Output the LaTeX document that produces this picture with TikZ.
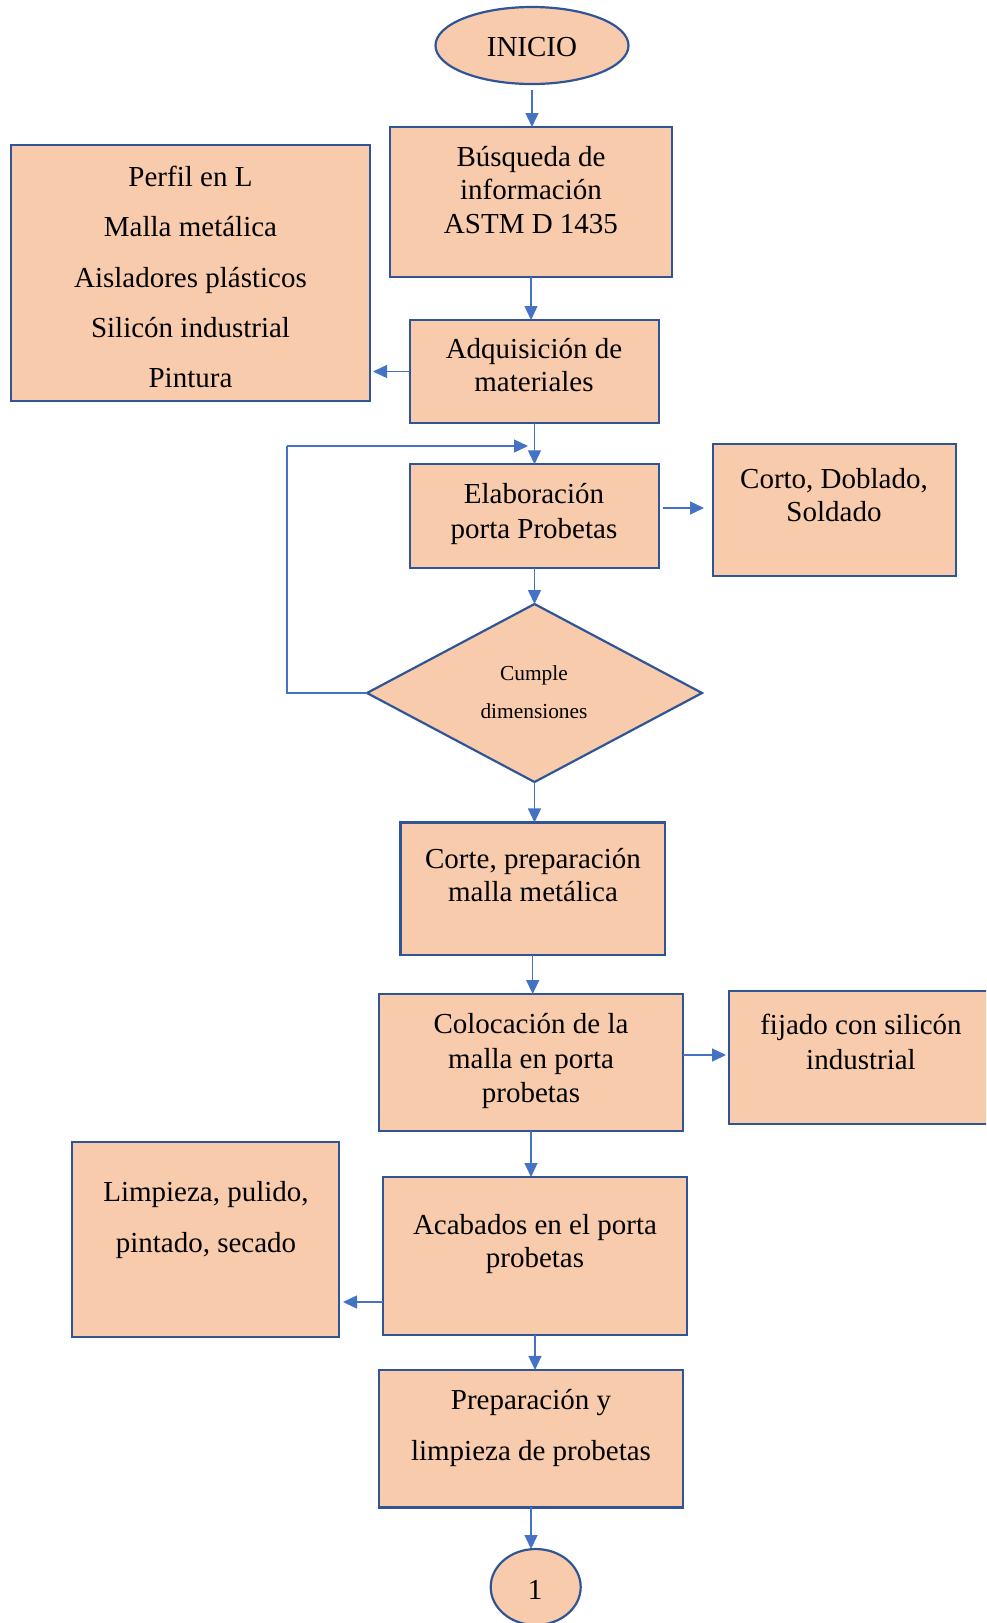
\documentclass[tikz,border=0pt]{standalone}
\usepackage{fontspec}
\setmainfont{Liberation Serif}
\usetikzlibrary{arrows.meta,shapes.geometric}
\definecolor{boxfill}{HTML}{F8CBAD}
\definecolor{boxline}{HTML}{2F5597}
\definecolor{arrowc}{HTML}{4472C4}
\begin{document}
\begin{tikzpicture}[x=1pt,y=-1pt,
  box/.style={draw=boxline,fill=boxfill,line width=2.2pt,rectangle,inner sep=0pt,outer sep=0pt},
  oval/.style={draw=boxline,fill=boxfill,line width=2.2pt,ellipse,inner sep=0pt,outer sep=0pt},
  txt/.style={align=center,font=\fontsize{29}{33.5}\selectfont,inner sep=0pt},
  wtxt/.style={align=center,font=\fontsize{29}{50.3}\selectfont,inner sep=0pt},
  arr/.style={draw=arrowc,line width=1.4pt,-{Triangle[length=14pt,width=13pt]}}]
\useasboundingbox (0,0) rectangle (986,1623);
\begin{scope}
\clip (0,0) rectangle (986,1623);
% shapes
\node[oval,minimum width=193pt,minimum height=77pt] (start) at (532,45.5) {};
\node[box,minimum width=282pt,minimum height=150pt] (b1) at (531,202) {};
\node[box,minimum width=359pt,minimum height=256pt] (mat) at (190.5,273) {};
\node[box,minimum width=249pt,minimum height=103pt] (b2) at (534.5,371.5) {};
\node[box,minimum width=249pt,minimum height=103.5pt] (b3) at (534.5,516) {};
\node[box,minimum width=243pt,minimum height=132pt] (corto) at (834.5,510) {};
\node[draw=boxline,fill=boxfill,line width=2.2pt,diamond,aspect=1.88,inner sep=0pt,outer sep=0pt,minimum width=335pt,minimum height=178pt] (d) at (534.5,693) {};
\node[box,minimum width=264.6pt,minimum height=132.5pt] (b4) at (532.7,888.7) {};
\node[box,minimum width=304pt,minimum height=137pt] (b5) at (531,1062.5) {};
\node[box,minimum width=264pt,minimum height=133pt] (fij) at (861,1057.5) {};
\node[box,minimum width=304pt,minimum height=158pt] (b6) at (535,1256) {};
\node[box,minimum width=267pt,minimum height=195pt] (limp) at (205.5,1239.5) {};
\node[box,minimum width=304pt,minimum height=137.5pt] (b7) at (531,1438.7) {};
\node[oval,minimum width=90pt,minimum height=76pt] (fin) at (535.7,1587) {};
% texts
\node[txt] (tstart) at (532,47.5) {INICIO};
\node[txt] (t1) at (531,190) {Búsqueda de\\información\\ASTM D 1435};
\node[wtxt] (tmat) at (190.5,277) {Perfil en L\\Malla metálica\\Aisladores plásticos\\Silicón industrial\\Pintura};
\node[txt] (t2) at (534,365) {Adquisición de\\materiales};
\node[txt,font=\fontsize{29}{35}\selectfont] (t3) at (534,514) {Elaboración\\porta Probetas};
\node[txt] (tcorto) at (834,495) {Corto, Doblado,\\Soldado};
\node[txt,font=\fontsize{21.4}{37.5}\selectfont] (td) at (534,692) {Cumple\\dimensiones};
\node[txt] (t4) at (533,875) {Corte, preparación\\malla metálica};
\node[txt,font=\fontsize{29}{34.2}\selectfont] (t5) at (531,1061) {Colocación de la\\malla en porta\\probetas};
\node[txt,font=\fontsize{29}{34.2}\selectfont] (tfij) at (861,1042) {fijado con silicón\\industrial};
\node[txt] (t6) at (535,1244) {Acabados en el porta\\probetas};
\node[wtxt,font=\fontsize{29}{50.5}\selectfont] (tlimp) at (206,1220) {Limpieza, pulido,\\pintado, secado};
\node[wtxt,font=\fontsize{29}{50.5}\selectfont] (t7) at (531,1428) {Preparación y\\limpieza de probetas};
\node[txt] (tfin) at (535,1590) {1};
% connectors
\coordinate (loopx) at (287,446);
\coordinate (loopend) at (528,446);
\draw[arr,shorten <=6pt] (start.south) -- (start.south |- b1.north);
\draw[arr] (b1.south) -- (b1.south |- b2.north);
\draw[arr,shorten >=3pt] (b2.west) -- (mat.east |- b2.west);
\draw[arr] (b2.south) -- (b2.south |- b3.north);
\draw[arr,shorten <=4pt,shorten >=9pt] ([yshift=8pt]b3.east) -- ([yshift=8pt]b3.east -| corto.west);
\draw[arr] (b3.south) -- (b3.south |- d.north);
\draw[draw=arrowc,line width=1.4pt] (d.west) -- (d.west -| loopx) -- (loopx);
\draw[arr] (loopx) -- (loopend);
\draw[arr] (d.south) -- (d.south |- b4.north);
\draw[arr] (b4.south) -- (b4.south |- b5.north);
\draw[arr,shorten >=3pt] ([yshift=7.5pt]b5.east) -- ([yshift=7.5pt]b5.east -| fij.west);
\draw[arr] (b5.south) -- (b5.south |- b6.north);
\draw[arr,shorten >=4pt] ([yshift=-46pt]b6.west) -- ([yshift=-46pt]b6.west -| limp.east);
\draw[arr] (b6.south) -- (b6.south |- b7.north);
\draw[arr] (b7.south) -- (b7.south |- fin.north);
\end{scope}
\end{tikzpicture}
\end{document}
